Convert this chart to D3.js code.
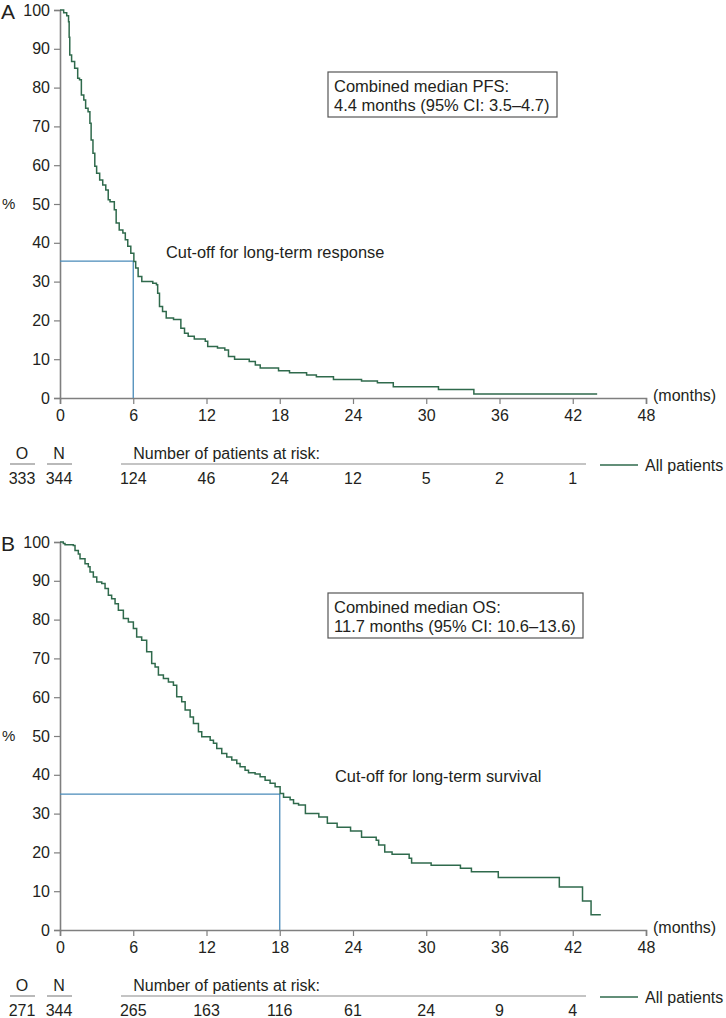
<!DOCTYPE html>
<html>
<head>
<meta charset="utf-8">
<script src="https://cdn.jsdelivr.net/npm/d3@7"></script>
<style>
  html, body { margin: 0; padding: 0; background: #fff; }
  svg { display: block; }
  text { font-family: "Liberation Sans", Arial, sans-serif; fill: #231f20; }
</style>
</head>
<body>
<svg id="chart" width="726" height="1018"></svg>
<script>
// ---------- data ----------
const monthTicks = [0, 6, 12, 18, 24, 30, 36, 42, 48];
const pctTicks = [0, 10, 20, 30, 40, 50, 60, 70, 80, 90, 100];
const riskMonths = [6, 12, 18, 24, 30, 36, 42];

// Panel A: progression-free survival (step points: time, % after step)
const pfsTime = [0, 0.3, 0.55, 0.7, 0.75, 0.8, 0.95, 1.2, 1.45, 1.6, 1.75, 1.95, 2.1, 2.3, 2.45, 2.55, 2.7, 2.85, 3.0, 3.25, 3.5, 3.75, 3.95, 4.1, 4.45, 4.6, 4.85, 5.15, 5.35, 5.55, 5.8, 6.05, 6.2, 6.4, 6.7, 7.6, 7.9, 8.0, 8.15, 8.4, 8.7, 9.3, 9.9, 10.2, 10.5, 11.0, 11.9, 12.1, 12.9, 13.5, 13.8, 14.3, 15.5, 16.0, 16.4, 17.9, 18.8, 20.2, 21.0, 22.4, 24.7, 26.0, 27.3, 31.0, 33.9, 44.0];
const pfsSurv = [100, 99.3, 98.5, 97, 93, 88.4, 86.7, 85, 82.4, 82, 78.1, 76.8, 74.7, 73.8, 70.8, 66.5, 63.1, 59.7, 57.9, 56.2, 54.9, 53.6, 51.1, 50.6, 48.5, 45.1, 43.3, 42.5, 40.8, 39.1, 37.3, 35.2, 33.5, 31.3, 30.0, 29.6, 29.2, 27.0, 23.6, 22.3, 20.6, 20.2, 18.0, 16.7, 15.9, 15.2, 14.6, 13.3, 12.9, 12.4, 10.7, 10.0, 9.4, 8.5, 7.7, 7.0, 6.5, 5.9, 5.5, 4.8, 4.4, 3.9, 2.9, 2.2, 1.0, 1.0];
const pfsAtRisk = [124, 46, 24, 12, 5, 2, 1];
const pfsObserved = 333, pfsTotal = 344;

// Panel B: overall survival
const osTime = [0, 0.27, 0.41, 1.09, 1.23, 1.5, 1.64, 2.05, 2.32, 2.46, 2.73, 3.01, 3.42, 3.69, 3.96, 4.23, 4.51, 4.78, 5.19, 5.6, 6.01, 6.28, 6.69, 7.1, 7.51, 7.79, 8.06, 8.47, 8.88, 9.29, 9.56, 9.97, 10.25, 10.66, 10.93, 11.34, 11.61, 12.3, 12.57, 12.84, 13.25, 13.66, 14.07, 14.48, 14.75, 15.16, 15.44, 15.98, 16.39, 16.8, 17.21, 17.62, 18.03, 18.31, 18.85, 19.13, 19.54, 20.1, 21.2, 21.9, 22.7, 23.8, 24.7, 25.9, 26.1, 26.6, 27.2, 28.6, 28.8, 30.4, 32.8, 33.7, 35.9, 40.9, 42.8, 43.5, 44.3];
const osSurv = [100, 99.6, 99.3, 99.1, 97.8, 96.9, 95.7, 94.4, 93.6, 92.3, 91.0, 89.7, 89.3, 88.0, 86.3, 85.4, 84.1, 82.4, 80.3, 79.4, 77.7, 75.5, 74.7, 71.7, 68.7, 67.8, 65.7, 64.8, 63.9, 63.1, 60.1, 58.8, 56.7, 54.9, 53.2, 51.1, 49.8, 48.9, 48.1, 46.8, 45.5, 44.6, 43.8, 42.9, 42.1, 41.2, 40.5, 40.2, 39.5, 38.6, 37.8, 36.9, 35.2, 34.2, 33.6, 32.6, 32.2, 30.0, 29.1, 27.5, 26.5, 25.5, 23.9, 23.1, 21.9, 20.1, 19.5, 18.5, 17.3, 16.7, 15.9, 15.0, 13.5, 11.1, 7.5, 3.9, 3.9];
const osAtRisk = [265, 163, 116, 61, 24, 9, 4];
const osObserved = 271, osTotal = 344;

// ---------- drawing ----------
const svg = d3.select("#chart");
const curveColor = "#2f6a4c";
const cutColor = "#4a8bb9";
const axisColor = "#7f7f7f";

const x = d3.scaleLinear().domain([0, 48]).range([60, 646]);

function drawPanel(p) {
  const y = d3.scaleLinear().domain([0, 100]).range([p.top + 388, p.top]);
  const g = svg.append("g");

  // panel letter
  g.append("text").attr("x", 1).attr("y", p.top + 1).attr("dy", "0.36em")
    .style("font-size", "21px").text(p.letter);
  // % label
  g.append("text").attr("x", 2).attr("y", y(50)).attr("dy", "0.36em")
    .style("font-size", "15px").text("%");

  // y axis
  const yAxis = d3.axisLeft(y).tickValues(pctTicks).tickSize(6).tickPadding(4);
  const ya = g.append("g").attr("transform", `translate(${x(0)},0)`).call(yAxis);
  ya.select(".domain").attr("stroke", axisColor).attr("stroke-width", 1.6);
  ya.selectAll(".tick line").attr("stroke", axisColor).attr("stroke-width", 1.2);
  ya.selectAll(".tick text").style("font-size", "16px").attr("fill", "#231f20")
    .style("font-family", "Liberation Sans, Arial, sans-serif");

  // x axis
  const xAxis = d3.axisBottom(x).tickValues(monthTicks).tickSize(6).tickPadding(6);
  const xa = g.append("g").attr("transform", `translate(0,${y(0)})`).call(xAxis);
  xa.select(".domain").attr("stroke", axisColor).attr("stroke-width", 1.6);
  xa.selectAll(".tick line").attr("stroke", axisColor).attr("stroke-width", 1.2);
  xa.selectAll(".tick text").style("font-size", "16px").attr("fill", "#231f20")
    .style("font-family", "Liberation Sans, Arial, sans-serif");
  g.append("text").attr("x", x(48) + 7).attr("y", y(0) - 3).attr("dy", "0.36em")
    .style("font-size", "16px").text("(months)");

  // cut-off lines
  g.append("path")
    .attr("d", d3.line()([[x(0), y(p.cutPct)], [x(p.cutMonth), y(p.cutPct)], [x(p.cutMonth), y(0)]]))
    .attr("fill", "none").attr("stroke", cutColor).attr("stroke-width", 1.3);
  g.append("text").attr("x", p.cutLabelX).attr("y", p.cutLabelY).attr("dy", "0.36em")
    .style("font-size", "16.4px").text(p.cutLabel);

  // KM curve
  const pts = p.time.map((t, i) => [t, p.surv[i]]);
  g.append("path")
    .attr("d", d3.line().x(d => x(d[0])).y(d => y(d[1])).curve(d3.curveStepAfter)(pts))
    .attr("fill", "none").attr("stroke", curveColor).attr("stroke-width", 1.5);

  // annotation box
  const bx = 328, by = p.boxTop;
  g.append("rect").attr("x", bx).attr("y", by).attr("width", p.boxW).attr("height", 45)
    .attr("fill", "#fff").attr("stroke", "#555").attr("stroke-width", 1.2);
  g.append("text").attr("x", bx + 6).attr("y", by + 14).attr("dy", "0.36em")
    .style("font-size", "16.5px").text(p.box1);
  g.append("text").attr("x", bx + 6).attr("y", by + 33).attr("dy", "0.36em")
    .style("font-size", "16.5px").text(p.box2);

  // at-risk table
  const base = y(0);
  const hY = base + 55, lY = base + 66, nY = base + 80;
  const colO = 22, colN = 59;
  g.append("text").attr("x", colO).attr("y", hY).attr("dy", "0.36em").attr("text-anchor", "middle")
    .style("font-size", "16px").text("O");
  g.append("text").attr("x", colN).attr("y", hY).attr("dy", "0.36em").attr("text-anchor", "middle")
    .style("font-size", "16px").text("N");
  g.append("text").attr("x", x(6)).attr("y", hY).attr("dy", "0.36em")
    .style("font-size", "16px").text("Number of patients at risk:");
  [[10, 35], [47, 72], [121, 586]].forEach(([a, b]) => {
    g.append("line").attr("x1", a).attr("x2", b).attr("y1", lY).attr("y2", lY)
      .attr("stroke", "#8a8a8a").attr("stroke-width", 1.2);
  });
  g.append("text").attr("x", colO).attr("y", nY).attr("dy", "0.36em").attr("text-anchor", "middle")
    .style("font-size", "16px").text(p.observed);
  g.append("text").attr("x", colN).attr("y", nY).attr("dy", "0.36em").attr("text-anchor", "middle")
    .style("font-size", "16px").text(p.total);
  g.selectAll("text.risk").data(riskMonths).enter().append("text")
    .attr("class", "risk")
    .attr("x", d => x(d)).attr("y", nY).attr("dy", "0.36em").attr("text-anchor", "middle")
    .style("font-size", "16px").text((d, i) => p.atRisk[i]);

  // legend
  g.append("line").attr("x1", 600).attr("x2", 638).attr("y1", lY + 1).attr("y2", lY + 1)
    .attr("stroke", curveColor).attr("stroke-width", 1.3);
  g.append("text").attr("x", 645).attr("y", lY + 1).attr("dy", "0.36em")
    .style("font-size", "16px").text("All patients");
}

drawPanel({
  letter: "A", top: 10, time: pfsTime, surv: pfsSurv,
  cutMonth: 6, cutPct: 35.3, cutLabel: "Cut-off for long-term response", cutLabelX: 166, cutLabelY: 252,
  boxTop: 72, boxW: 229, box1: "Combined median PFS:", box2: "4.4 months (95% CI: 3.5\u20134.7)",
  atRisk: pfsAtRisk, observed: pfsObserved, total: pfsTotal
});
drawPanel({
  letter: "B", top: 542, time: osTime, surv: osSurv,
  cutMonth: 18, cutPct: 35, cutLabel: "Cut-off for long-term survival", cutLabelX: 335, cutLabelY: 776,
  boxTop: 593, boxW: 255, box1: "Combined median OS:", box2: "11.7 months (95% CI: 10.6\u201313.6)",
  atRisk: osAtRisk, observed: osObserved, total: osTotal
});
</script>
</body>
</html>
